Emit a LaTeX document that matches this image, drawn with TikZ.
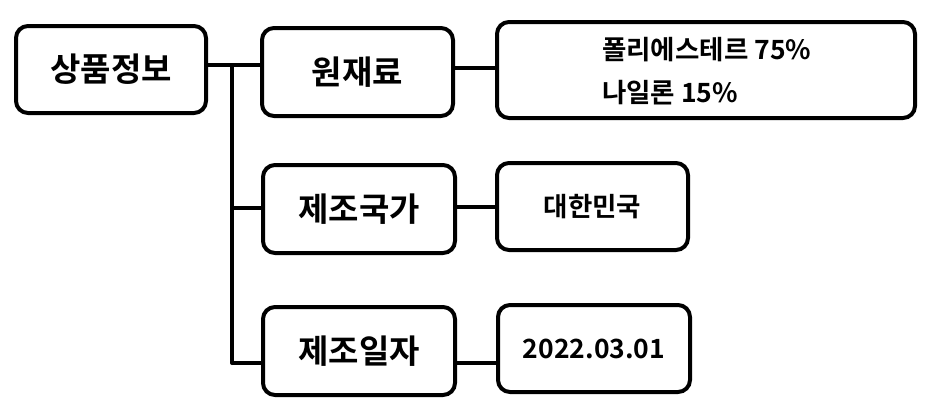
\documentclass[tikz,border=0pt]{standalone}
\usepackage{fontspec}
\setmainfont{Noto Sans CJK KR}[BoldFont={* Bold}]
\begin{document}
\begin{tikzpicture}[x=1pt,y=-1pt,
  box/.style={draw=black,line width=4pt,rounded corners=12pt,fill=white,inner sep=0pt},
  big/.style={font=\fontsize{33}{36}\selectfont\bfseries},
  small/.style={font=\fontsize{26.5}{30}\selectfont\bfseries},
  conn/.style={line width=4pt,line cap=butt}]
\useasboundingbox[fill=white] (0,0) rectangle (931,407);
\node[box,big,minimum width=190pt,minimum height=87pt] (root) at (111,69.5) {상품정보};
\node[box,big,minimum width=191pt,minimum height=88pt] (mat) at (357.5,72) {원재료};
\node[box,minimum width=418pt,minimum height=96pt] (matv) at (706,70) {};
\node[small,anchor=west,inner sep=0pt] (l1) at (602,50) {폴리에스테르 75\%};
\node[small,anchor=west,inner sep=0pt] (l2) at (602,93) {나일론 15\%};
\node[box,big,minimum width=192pt,minimum height=88pt] (cty) at (359,209) {제조국가};
\node[box,small,minimum width=191pt,minimum height=87pt] (ctyv) at (592.5,206.5) {대한민국};
\node[box,big,minimum width=192pt,minimum height=88pt] (dat) at (359,351) {제조일자};
\node[box,small,minimum width=192pt,minimum height=87pt] (datv) at (594,348.5) {2022.03.01};
\coordinate (top) at (232,65);
\coordinate (bot) at (232,363);
\draw[conn] (root.east |- top) -- (top);
\draw[conn] (top) -- (mat.west |- top);
\draw[conn,line cap=round] (top) -- (bot);
\draw[conn] (232,208) -- (cty.west |- 0,208);
\draw[conn] (bot) -- (dat.west |- bot);
\draw[conn] (mat.east |- 0,68) -- (matv.west |- 0,68);
\draw[conn] (cty.east |- 0,207) -- (ctyv.west |- 0,207);
\draw[conn] (dat.east |- 0,363) -- (datv.west |- 0,363);
\end{tikzpicture}
\end{document}
